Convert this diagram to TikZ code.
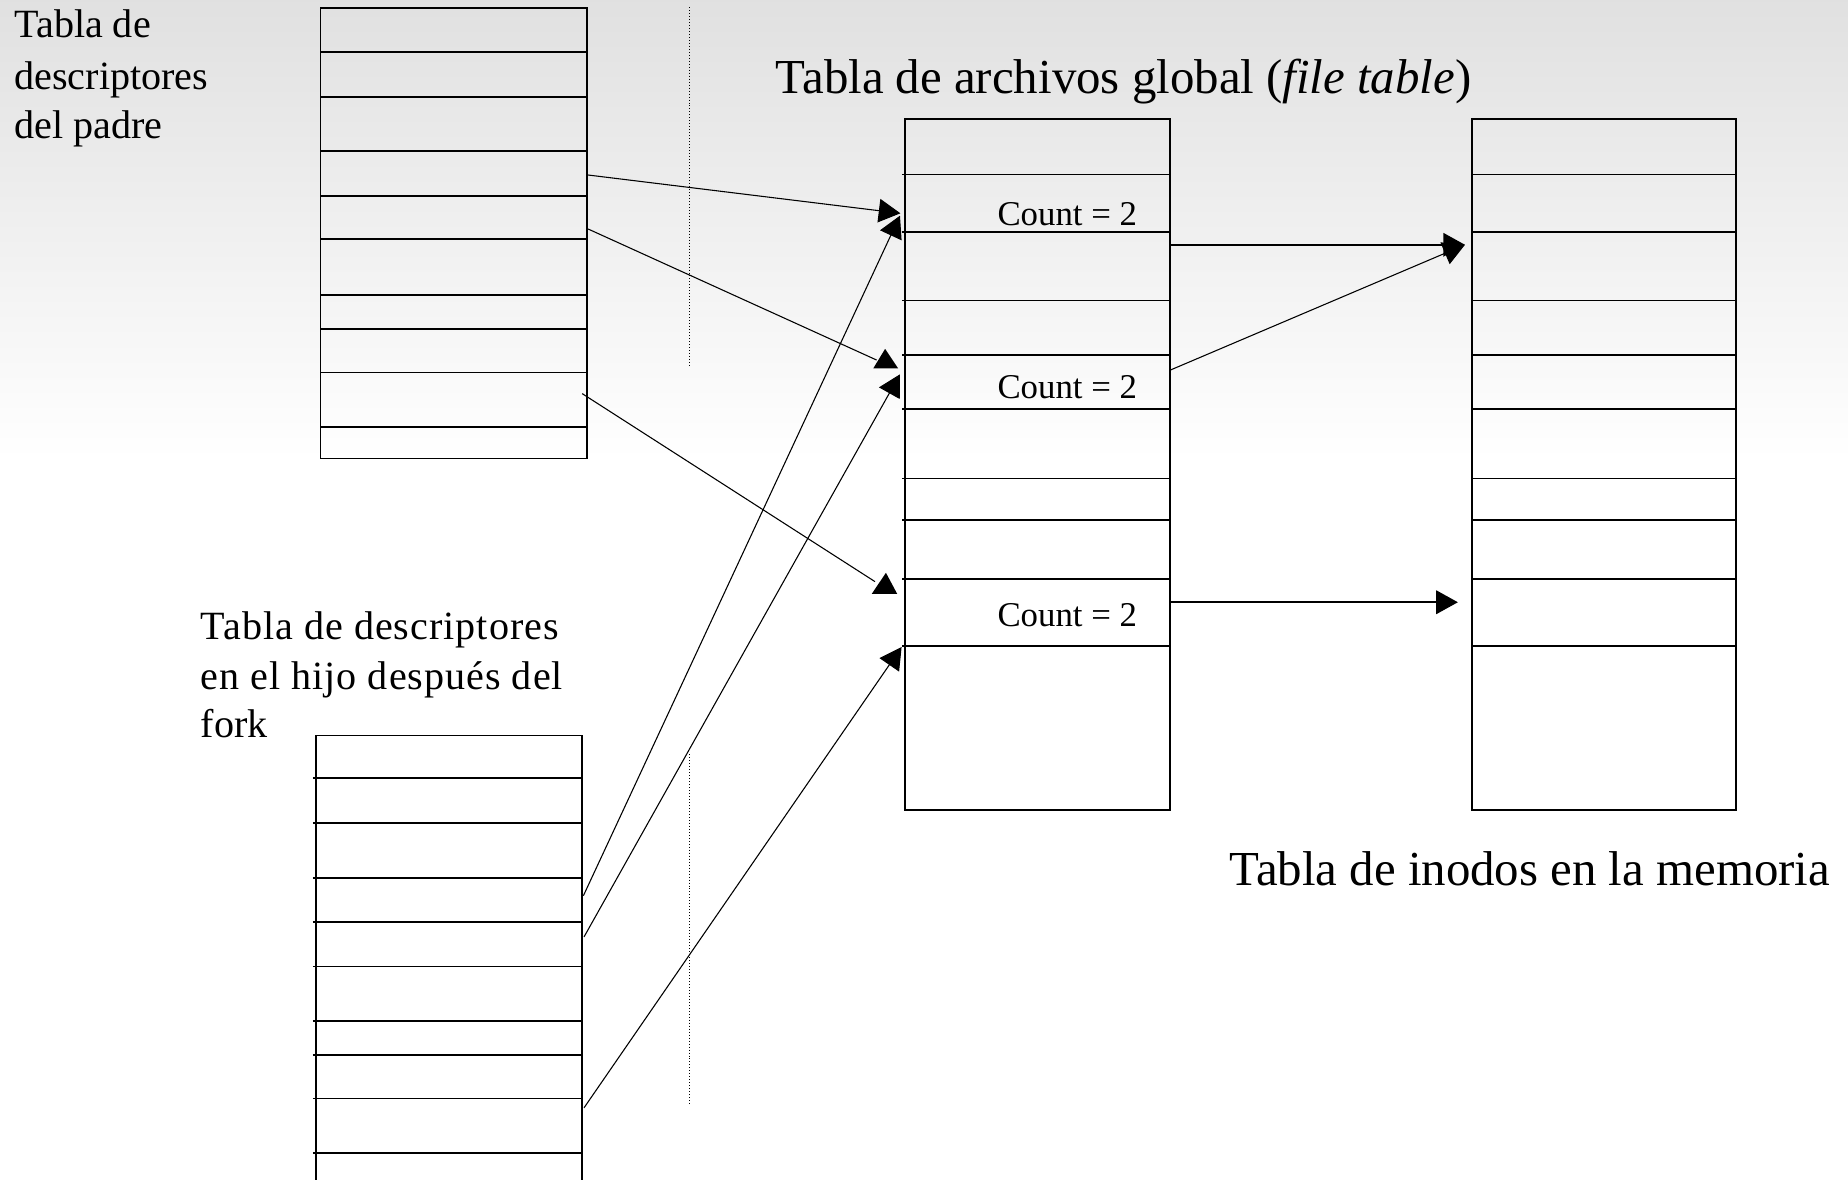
\documentclass[tikz,border=0pt]{standalone}
\usepackage{fontspec}
\setmainfont{Liberation Serif}
\usetikzlibrary{arrows.meta,fit}
\begin{document}
\begin{tikzpicture}[x=0.25mm,y=-0.25mm,
  tbl/.style={draw=black, line width=1.1pt, inner sep=0pt},
  rowline/.style={line width=1.1pt},
  link/.style={line width=0.65pt},
  hlink/.style={line width=1pt},
  tip/.style={-{Triangle[length=4.6mm,width=5mm]}},
  sepline/.style={line width=0.6pt, dash pattern=on 0.6pt off 1.2pt},
  lbl/.style={font=\fontsize{24.2}{30}\selectfont, inner sep=0pt, anchor=base west},
  spaced/.style={font=\fontsize{24.2}{30}\selectfont\addfontfeatures{LetterSpace=2.5}},
  big/.style={font=\fontsize{29.5}{35}\selectfont, inner sep=0pt, anchor=base west},
  cnt/.style={font=\fontsize{21}{25}\selectfont, inner sep=0pt, anchor=base east},
  head/.style={fill=black},
]
\useasboundingbox (0,0) rectangle (1568,1001);
\clip (0,0) rectangle (1568,1001);
% background: light grey fading to white
\fill[white] (0,0) rectangle (1568,1001);
\shade[top color=black!12, bottom color=white] (0,0) rectangle (1568,390);

% dotted separators between parent/child tables and the global table
\draw[sepline] (585,6) -- (585,312);
\draw[sepline] (585,640) -- (585,938);

% parent descriptor table
\node[tbl, fit={(272,7) (498,389)}] (padre) {};
\foreach \y in {44,82,128,166,203,250,279,316,362}
  \draw[rowline] (272,\y) -- (498,\y);

% child descriptor table (continues past the lower edge)
\node[tbl, fit={(268,624) (494,1006)}] (hijo) {};
\foreach \y in {660,698,745,782,820,866,895,932,978}
  \draw[rowline] (265.5,\y) -- (494,\y);

% global file table
\node[tbl, fit={(768,101) (993,687)}] (archivos) {};
\foreach \y in {148,197,255,301,347,406,441,491,548}
  \draw[rowline] (765.5,\y) -- (993,\y);

% in-memory inode table
\node[tbl, fit={(1249,101) (1473,687)}] (inodos) {};
\foreach \y in {148,197,255,301,347,406,441,491,548}
  \draw[rowline] (1249,\y) -- (1473,\y);

% labels
\node[lbl] (padreA) at (12,31.7) {Tabla de};
\node[lbl] (padreB) at (12,75.8) {descriptores};
\node[lbl] (padreC) at (12,117.4) {del padre};

\node[lbl, spaced] (hijoA) at (170,543) {Tabla de descriptores};
\node[lbl, spaced] (hijoB) at (170,585) {en el hijo después del};
\node[lbl] (hijoC) at (170,626) {fork};

\node[big] (titulo) at (658,79) {Tabla de archivos global (\textit{file table})};
\node[big] (memoria) at (1043,751.5) {Tabla de inodos en la memoria};

\node[cnt] (cnt1) at (965,191) {Count = 2};
\node[cnt] (cnt2) at (965,338) {Count = 2};
\node[cnt] (cnt3) at (965,532) {Count = 2};

% connector end points
\coordinate (pa1) at (499,148.5);
\coordinate (pa2) at (499,194.3);
\coordinate (pa3) at (494,334);
\coordinate (ca1) at (495,760);
\coordinate (ca2) at (495.5,795);
\coordinate (ca3) at (495.5,940);
\coordinate (fa1) at (764,181);
\coordinate (fa2) at (763.6,183);
\coordinate (fb1) at (743.8,305.5);
\coordinate (fb2) at (763.6,317.6);
\coordinate (fc1) at (742.4,493.5);
\coordinate (fc2) at (765,549);
\coordinate (fo1) at (993,207.7);
\coordinate (fo2) at (993,314);
\coordinate (fo3) at (993,511);
\coordinate (ia1) at (1243,207.7);
\coordinate (ic1) at (1237,511);

% parent descriptors -> file table
\draw[link, tip] (pa1) -- (fa1);
\draw[link] (pa2) -- (fb1);
\fill[head] (751,296) -- (762,312.5) -- (741,312.5) -- cycle;
\draw[link] (pa3) -- (fc1);
\fill[head] (751.7,486) -- (761.3,504) -- (739.6,504) -- cycle;

% child descriptors -> file table
\draw[link, tip] (ca1) -- (fa2);
\draw[link, tip] (ca2) -- (fb2);
\draw[link, tip] (ca3) -- (fc2);

% file table -> inode table
\draw[hlink, tip] (fo1) -- (ia1);
\draw[link, tip] (fo2) -- (ia1);
\draw[hlink, tip] (fo3) -- (ic1);
\end{tikzpicture}
\end{document}
